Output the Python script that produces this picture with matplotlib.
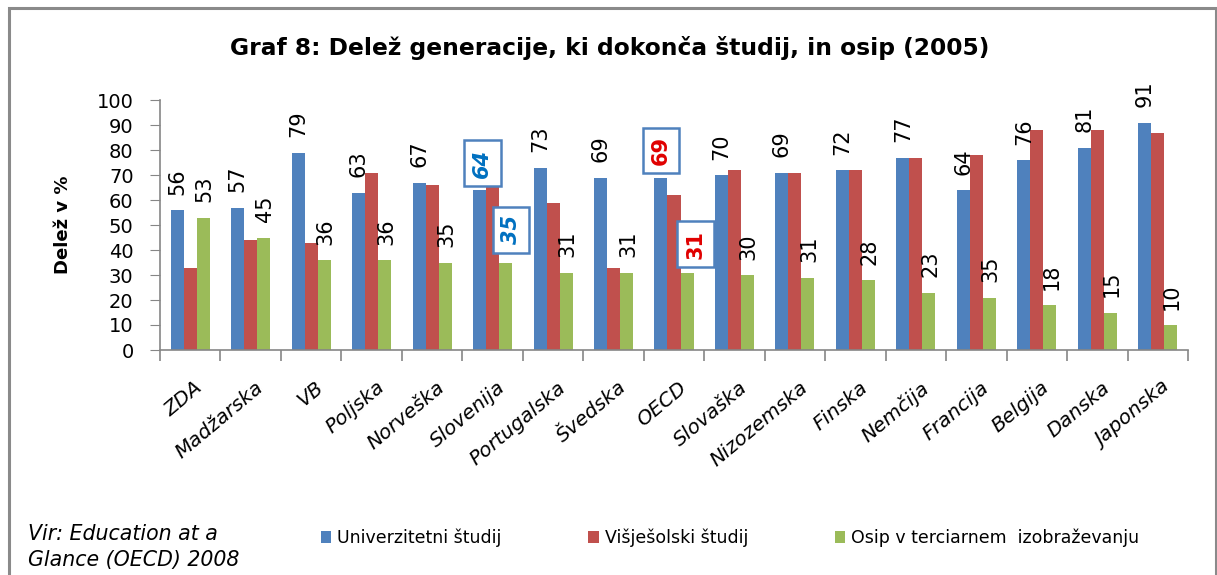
import numpy as np
import matplotlib
matplotlib.use('Agg')
import matplotlib.pyplot as plt
import matplotlib.transforms as mtrans
from matplotlib.patches import Rectangle

# Data
countries = ['ZDA', 'Madžarska', 'VB', 'Poljska', 'Norveška', 'Slovenija', 'Portugalska',
             'Švedska', 'OECD', 'Slovaška', 'Nizozemska', 'Finska', 'Nemčija', 'Francija',
             'Belgija', 'Danska', 'Japonska']
univerzitetni = [56, 57, 79, 63, 67, 64, 73, 69, 69, 70, 71, 72, 77, 64, 76, 81, 91]
visjesolski = [33, 44, 43, 71, 66, 67, 59, 33, 62, 72, 71, 72, 77, 78, 88, 88, 87]
osip = [53, 45, 36, 36, 35, 35, 31, 31, 31, 30, 29, 28, 23, 21, 18, 15, 10]

# label texts as printed on the original chart
univ_labels = ['56', '57', '79', '63', '67', '64', '73', '69', '69', '70', '69', '72', '77', '64', '76', '81', '91']
osip_labels = ['53', '45', '36', '36', '35', '35', '31', '31', '31', '30', '31', '28', '23', '35', '18', '15', '10']
boxed = ['Slovenija', 'OECD']  # labels drawn in boxes

blue = '#4F81BD'
red = '#C0504D'
green = '#9BBB59'
axis_gray = '#868686'

W, H = 1217, 575
fig = plt.figure(figsize=(W / 100, H / 100), dpi=100)

# outer frame
fig.patches.append(Rectangle((9 / W, -0.05), (1216 - 9) / W, 1.05 - 8 / H, transform=fig.transFigure,
                             fill=False, edgecolor='#8a8a8a', linewidth=2.2))

ax = fig.add_axes([160 / W, 1 - 350 / H, (1188 - 160) / W, 250 / H])

x = np.arange(len(countries))
bw = 0.215
ax.bar(x - bw, univerzitetni, bw, color=blue, label='Univerzitetni študij')
ax.bar(x, visjesolski, bw, color=red, label='Višješolski študij')
ax.bar(x + bw, osip, bw, color=green, label='Osip v terciarnem  izobraževanju')

ax.set_xlim(-0.5, len(countries) - 0.5)
ax.set_ylim(0, 100)
ax.set_yticks(range(0, 101, 10))
ax.tick_params(axis='y', labelsize=14, length=7, color=axis_gray, pad=12)
for s in ['top', 'right']:
    ax.spines[s].set_visible(False)
for s in ['left', 'bottom']:
    ax.spines[s].set_color(axis_gray)
    ax.spines[s].set_linewidth(1.2)

ax.set_xticks(x)
ax.set_xticks(np.arange(-0.5, len(countries), 1), minor=True)
ax.tick_params(axis='x', which='major', length=0, pad=20)
ax.tick_params(axis='x', which='minor', length=8, color=axis_gray, width=1.2)
ax.set_xticklabels(countries, rotation=40, ha='right', rotation_mode='anchor',
                   style='italic', fontsize=14.5)
shift = mtrans.ScaledTranslation(4 / 100, 0, fig.dpi_scale_trans)
for lab in ax.get_xticklabels():
    lab.set_transform(lab.get_transform() + shift)

ax.set_ylabel('Delež v %', fontweight='bold', fontsize=13, labelpad=18)

# data labels
for i, c in enumerate(countries):
    if c in boxed:
        continue
    ax.annotate(univ_labels[i], (x[i] - bw, univerzitetni[i]), xytext=(0, 11),
                textcoords='offset points', rotation=90, ha='center', va='bottom', fontsize=15)
    ax.annotate(osip_labels[i], (x[i] + bw, osip[i]), xytext=(1, 11),
                textcoords='offset points', rotation=90, ha='center', va='bottom', fontsize=15)

box = dict(boxstyle='square,pad=0.4', facecolor='white', edgecolor=blue, linewidth=1.8)
i = countries.index('Slovenija')
ax.annotate(univ_labels[i], (x[i] - bw, univerzitetni[i]), xytext=(2, 9),
            textcoords='offset points', rotation=90, ha='center', va='bottom', fontsize=15,
            color='#0070C0', fontweight='bold', style='italic', bbox=box)
ax.annotate(osip_labels[i], (x[i] + bw, osip[i]), xytext=(4, 13),
            textcoords='offset points', rotation=90, ha='center', va='bottom', fontsize=15,
            color='#0070C0', fontweight='bold', style='italic', bbox=box)
i = countries.index('OECD')
ax.annotate(univ_labels[i], (x[i] - bw, univerzitetni[i]), xytext=(0, 9),
            textcoords='offset points', rotation=90, ha='center', va='bottom', fontsize=15,
            color='#E00000', fontweight='bold', bbox=box)
ax.annotate(osip_labels[i], (x[i] + bw, osip[i]), xytext=(6, 10),
            textcoords='offset points', rotation=90, ha='center', va='bottom', fontsize=15,
            color='#E00000', fontweight='bold', bbox=box)

fig.text(610 / W, 1 - 48 / H, 'Graf 8: Delež generacije, ki dokonča študij, in osip (2005)',
         ha='center', va='center', fontweight='bold', fontsize=16.8)

fig.text(28 / W, 1 - 547 / H, 'Vir: Education at a\nGlance (OECD) 2008', ha='left', va='center',
         style='italic', fontsize=14.8, linespacing=1.35)

fig.legend(loc='center', bbox_to_anchor=(730 / W, 1 - 538 / H), ncol=3, frameon=False,
           fontsize=12.5, handlelength=0.6, handleheight=0.7, handletextpad=0.35,
           columnspacing=5.0)

fig.savefig('out.png', dpi=100)
